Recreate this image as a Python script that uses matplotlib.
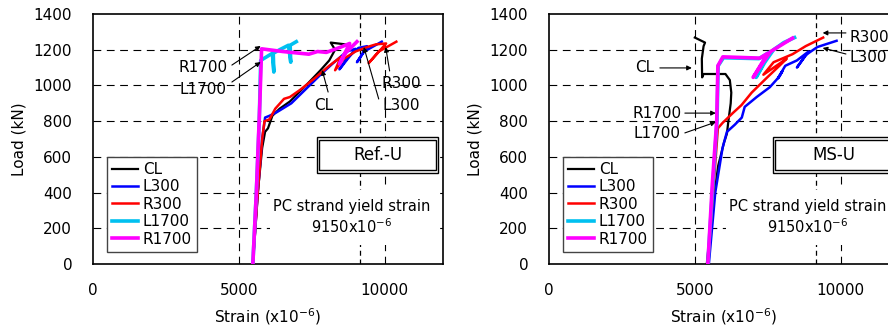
import matplotlib
matplotlib.use("Agg")
import matplotlib.pyplot as plt
from matplotlib.patches import Rectangle

plt.rcParams['font.family'] = ['DejaVu Sans']
plt.rcParams['font.size'] = 11

# ---- Ref.-U (left panel) ----
ref_cl_x = [5480, 5650, 5800, 5900, 6000, 6150, 6400, 6750, 7300, 7800, 8100, 8300, 8150, 8650]
ref_cl_y = [0, 400, 650, 740, 760, 830, 870, 910, 1000, 1085, 1140, 1200, 1240, 1230]
ref_l300_x = [5480, 5650, 5800, 5900, 6050, 6300, 6800, 7300, 7800, 8200, 8700, 9000, 8450, 8700, 9100, 9400, 9050, 9300, 9900]
ref_l300_y = [0, 400, 700, 820, 830, 850, 900, 980, 1060, 1120, 1190, 1205, 1090, 1150, 1210, 1220, 1130, 1190, 1245]
ref_r300_x = [5480, 5650, 5800, 5880, 6050, 6250, 6550, 6750, 7100, 7600, 8100, 8500, 8300, 8600, 9000, 9400, 9700, 10050, 9450, 9800, 10400]
ref_r300_y = [0, 400, 700, 800, 810, 870, 925, 935, 975, 1040, 1110, 1160, 1085, 1150, 1190, 1215, 1230, 1235, 1125, 1190, 1245]
ref_l1700_x = [5480, 5600, 5700, 5750, 5950, 6150, 6200, 6180, 6400, 6700, 6780, 6760, 6970]
ref_l1700_y = [0, 400, 800, 1140, 1160, 1180, 1075, 1180, 1200, 1225, 1130, 1225, 1245]
ref_r1700_x = [5480, 5600, 5720, 5780, 6500, 7400, 7700, 8000, 8500, 8800, 8450, 8650, 9050]
ref_r1700_y = [0, 400, 900, 1205, 1190, 1175, 1190, 1185, 1215, 1235, 1120, 1180, 1245]

# ---- MS-U (right panel) ----
ms_cl_x = [5410, 5600, 5800, 6000, 6100, 6150, 6230, 6250, 6200, 6050, 5300, 5250, 5240, 5300, 5350, 5000]
ms_cl_y = [0, 300, 550, 680, 730, 800, 900, 960, 1030, 1064, 1064, 1045, 1150, 1220, 1240, 1268]
ms_l300_x = [5480, 5700, 5950, 6100, 6370, 6610, 6710, 7120, 7570, 7900, 8000, 7850, 8100, 8500, 8900, 8500, 8800, 9200, 9860]
ms_l300_y = [0, 400, 650, 740, 780, 820, 880, 935, 990, 1050, 1080, 1040, 1110, 1140, 1190, 1100, 1170, 1215, 1250]
ms_r300_x = [5445, 5650, 5790, 5950, 6300, 6600, 6950, 7450, 7900, 8150, 7350, 7700, 8350, 8800, 9400]
ms_r300_y = [0, 450, 760, 790, 845, 890, 960, 1040, 1110, 1150, 1060, 1130, 1175, 1220, 1268]
ms_l1700_x = [5445, 5620, 5760, 5800, 5980, 7200, 7550, 7100, 7400, 7700, 8050, 8420]
ms_l1700_y = [0, 450, 800, 1110, 1155, 1150, 1185, 1045, 1130, 1200, 1240, 1268]
ms_r1700_x = [5445, 5600, 5750, 5790, 5960, 7230, 7500, 7000, 7300, 7600, 8000, 8350]
ms_r1700_y = [0, 450, 800, 1110, 1160, 1153, 1180, 1045, 1120, 1190, 1230, 1265]

names = ['CL', 'L300', 'R300', 'L1700', 'R1700']
colors = ['black', '#0000ff', '#ff0000', '#00c0f0', '#ff00ff']
widths = [1.6, 1.8, 1.8, 2.6, 2.6]

yield_strain = 9150
x_ticks = [0, 5000, 10000]
y_ticks = [0, 200, 400, 600, 800, 1000, 1200, 1400]

panels = [
    ('Ref.-U',
     [(ref_cl_x, ref_cl_y), (ref_l300_x, ref_l300_y), (ref_r300_x, ref_r300_y),
      (ref_l1700_x, ref_l1700_y), (ref_r1700_x, ref_r1700_y)],
     # label, text xy, ha, arrow start, arrow tip
     [('R1700', (3776, 1098), 'center', (4762, 1114), (5748, 1221)),
      ('L1700', (3776, 980), 'center', (4762, 1019), (5748, 1131)),
      ('CL', (7925, 885), 'center', (8061, 963), (7857, 1086)),
      ('R300', (10578, 1008), 'center', (10170, 1081), (10034, 1215)),
      ('L300', (10578, 890), 'center', (9796, 924), (9286, 1215))]),
    ('MS-U',
     [(ms_cl_x, ms_cl_y), (ms_l300_x, ms_l300_y), (ms_r300_x, ms_r300_y),
      (ms_l1700_x, ms_l1700_y), (ms_r1700_x, ms_r1700_y)],
     [('R300', (10300, 1271), 'left', (10180, 1294), (9384, 1294)),
      ('L300', (10300, 1159), 'left', (10180, 1176), (9384, 1210)),
      ('CL', (3288, 1098), 'center', (3801, 1098), (4897, 1098)),
      ('R1700', (3699, 845), 'center', (4658, 845), (5719, 845)),
      ('L1700', (3699, 728), 'center', (4658, 734), (5719, 795))]),
]

fig = plt.figure(figsize=(8.88, 3.34), dpi=100)
W, H = 888, 334
lefts = [93, 549]

for (title, series, notes), left in zip(panels, lefts):
    ax = fig.add_axes([left / W, 70 / H, 350 / W, 250 / H])
    ax.set_xlim(0, 12000)
    ax.set_ylim(0, 1400)
    ax.set_xticks(x_ticks)
    ax.set_yticks(y_ticks)
    ax.tick_params(axis='y', length=0, pad=15, labelsize=11)
    ax.tick_params(axis='x', length=0, pad=14, labelsize=11)
    for s in ax.spines.values():
        s.set_linewidth(1.2)

    for yv in y_ticks[1:-1]:
        ax.axhline(yv, color='k', lw=0.8, ls=(0, (7, 5)), zorder=1)
    ax.axvline(5000, color='k', lw=0.8, ls=(0, (7, 5)), zorder=2)
    ax.axvline(10000, color='k', lw=0.8, ls=(0, (7, 5)), zorder=2)
    ax.axvline(yield_strain, color='k', lw=0.9, ls=(0, (4, 3)), zorder=2)

    # white area behind the yield strain note
    ax.add_patch(Rectangle((0.506, 0.076), 0.477, 0.22, transform=ax.transAxes,
                           facecolor='white', edgecolor='none', zorder=3))

    for (xs, ys), n, c, w in zip(series, names, colors, widths):
        ax.plot(xs, ys, color=c, lw=w, label=n, zorder=4)

    # double-framed title box
    ax.add_patch(Rectangle((0.64, 0.364), 0.346, 0.144, transform=ax.transAxes,
                           facecolor='white', edgecolor='k', lw=1.0, zorder=5))
    ax.add_patch(Rectangle((0.647, 0.376), 0.332, 0.120, transform=ax.transAxes,
                           facecolor='white', edgecolor='k', lw=1.0, zorder=5))
    ax.text(0.813, 0.436, title, transform=ax.transAxes, ha='center', va='center',
            fontsize=12, zorder=6)

    ax.text(0.74, 0.232, 'PC strand yield strain', transform=ax.transAxes,
            ha='center', va='center', fontsize=10.5, zorder=6)
    ax.text(0.74, 0.150, '9150x10$^{-6}$', transform=ax.transAxes,
            ha='center', va='center', fontsize=10.5, zorder=6)

    for lab, txy, ha, a0, a1 in notes:
        ax.text(txy[0], txy[1], lab, ha=ha, va='center', fontsize=11, zorder=6)
        ax.annotate('', xy=a1, xytext=a0,
                    arrowprops=dict(arrowstyle='-|>', lw=0.8, color='k',
                                    mutation_scale=7, shrinkA=0, shrinkB=0),
                    zorder=6)

    leg = ax.legend(loc='lower left', bbox_to_anchor=(0.04, 0.048), borderaxespad=0,
                    fancybox=False, framealpha=1, edgecolor='#444444', fontsize=11,
                    handlelength=1.7, labelspacing=0.16, borderpad=0.35,
                    handletextpad=0.3)
    leg.set_zorder(7)
    leg.get_frame().set_linewidth(1.0)

    ax.set_ylabel('Load (kN)', fontsize=11, labelpad=5)
    ax.set_xlabel('Strain (x10$^{-6}$)', fontsize=11, labelpad=6)

fig.savefig('out.png', dpi=100)
